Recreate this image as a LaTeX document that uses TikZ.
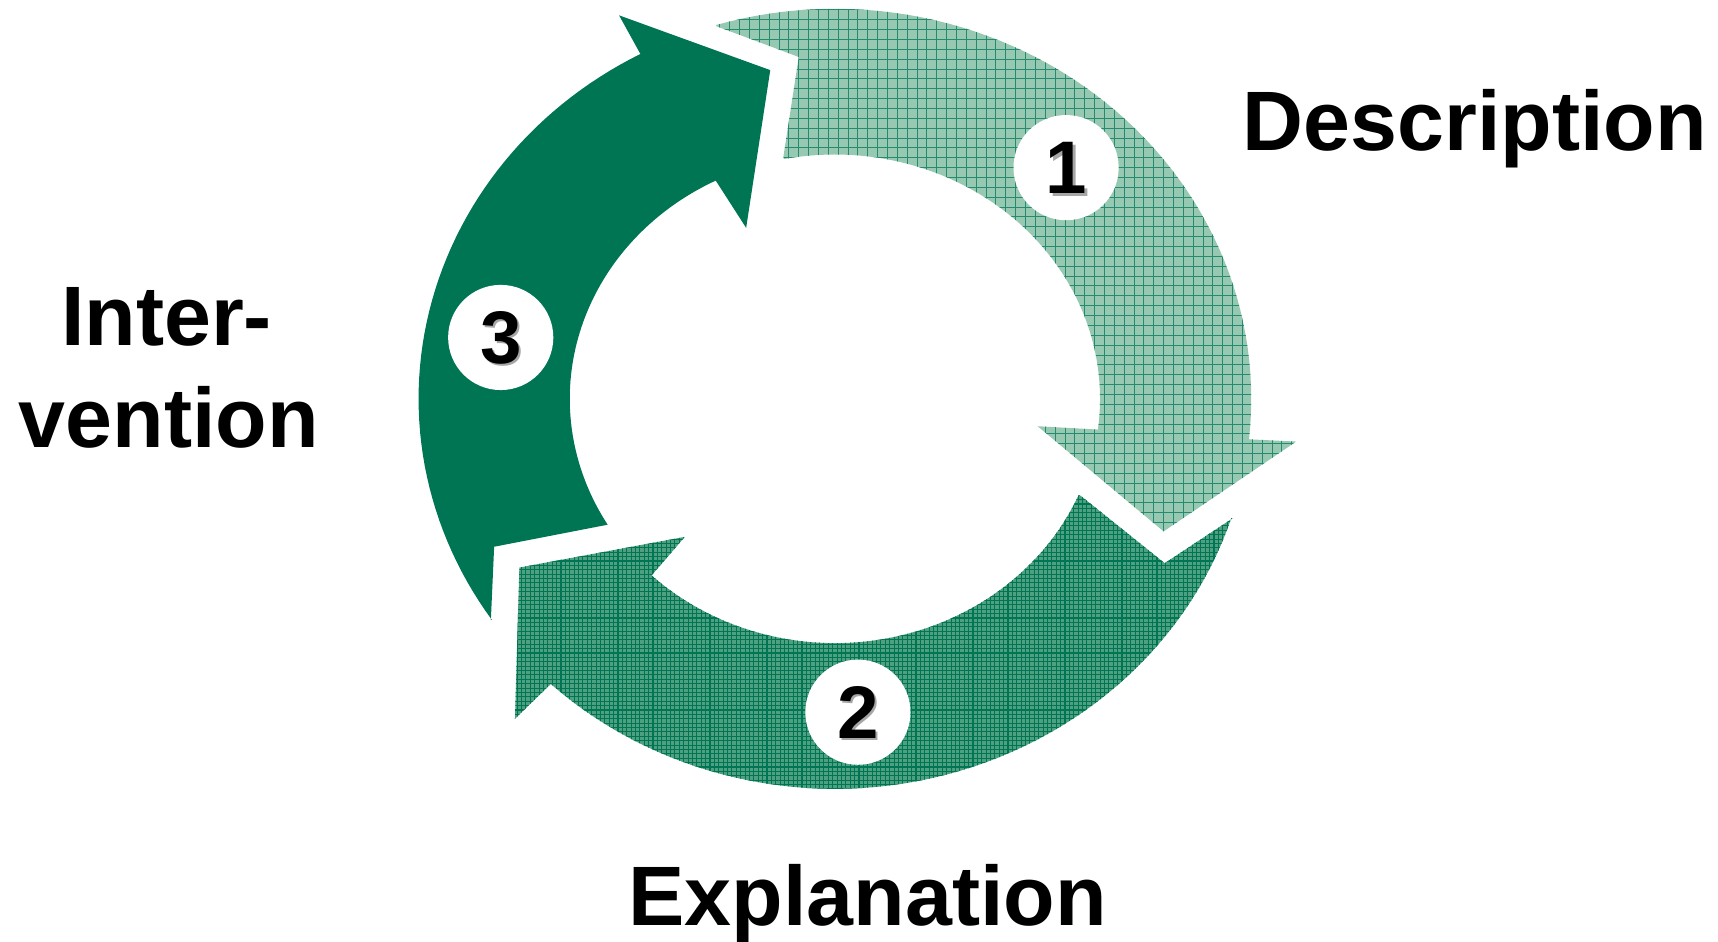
\documentclass[tikz,border=0pt]{standalone}
\usepackage{fontspec}
\setmainfont{Liberation Sans}
\begin{document}
\begin{tikzpicture}[x=1pt,y=-1pt,
  lbl/.style={font=\fontsize{77}{80}\selectfont\bfseries, anchor=base, inner sep=0pt},
  badge/.style={circle, fill=white, minimum size=96pt, inner sep=0pt},
  num/.style={font=\fontsize{68}{68}\selectfont\bfseries, inner sep=0pt},
  numshadow/.style={num, text=black!35}]
\definecolor{dkgreen}{RGB}{0,117,84}
\definecolor{lightA}{RGB}{150,200,178}
\definecolor{midB}{RGB}{78,160,128}
\useasboundingbox (0,0) rectangle (1568,859);
\def\pathA{(654,24) -- plot[domain=253.4:366,samples=60] ({762+380*cos(\x)},{364+356*sin(\x)}) -- (1141,401) -- (1183,403) -- (1062,485) -- (947,389) -- (1001,392) -- plot[domain=367.3:258.9,samples=60] ({762+242*cos(\x)},{364+223*sin(\x)}) -- (715,143) -- (729,52) -- cycle}
\def\pathB{(1125,473) -- plot[domain=17.8:133,samples=60] ({762+380*cos(\x)},{364+356*sin(\x)}) -- (503,624) -- (470,656) -- (474,518) -- (625,490) -- (594,526) -- plot[domain=133.7:23.2,samples=60] ({762+242*cos(\x)},{364+223*sin(\x)}) -- (987,453) -- (1063,514) -- cycle}
\def\pathC{(448,566) -- plot[domain=145.5:242.1,samples=60] ({762+380*cos(\x)},{364+356*sin(\x)}) -- (586,52) -- (565,14) -- (703,64) -- (681,208) -- (654,166) -- plot[domain=243.3:149,samples=60] ({762+242*cos(\x)},{364+223*sin(\x)}) -- (554,479) -- (451,499) -- cycle}
% arrow 1 (light, hatched)
\fill[lightA] \pathA;
\begin{scope}
  \clip \pathA;
  \draw[dkgreen!85, line width=0.9pt] (600,0) grid[step=9pt] (1200,500);
\end{scope}
% arrow 2 (medium, dense hatch)
\fill[midB] \pathB;
\begin{scope}
  \clip \pathB;
  \draw[dkgreen, line width=1pt] (440,440) grid[step=4pt] (1140,740);
\end{scope}
% arrow 3 (solid dark)
\fill[dkgreen] \pathC;
% badges
\node[badge] (b1) at (973,153) {};
\node[badge] (b2) at (783,650) {};
\node[badge] (b3) at (457,308) {};
\node[numshadow] (s1) at (975.5,155.5) {1};
\node[numshadow] (s2) at (785.5,652.5) {2};
\node[numshadow] (s3) at (459.5,310.5) {3};
\node[num] (n1) at (b1) {1};
\node[num] (n2) at (b2) {2};
\node[num] (n3) at (b3) {3};
% labels
\node[lbl] (desc) at (1346,137) {Description};
\node[lbl] (int1) at (152,315) {Inter-};
\node[lbl] (int2) at (154,408) {vention};
\node[lbl] (expl) at (792,845) {Explanation};
\end{tikzpicture}
\end{document}
